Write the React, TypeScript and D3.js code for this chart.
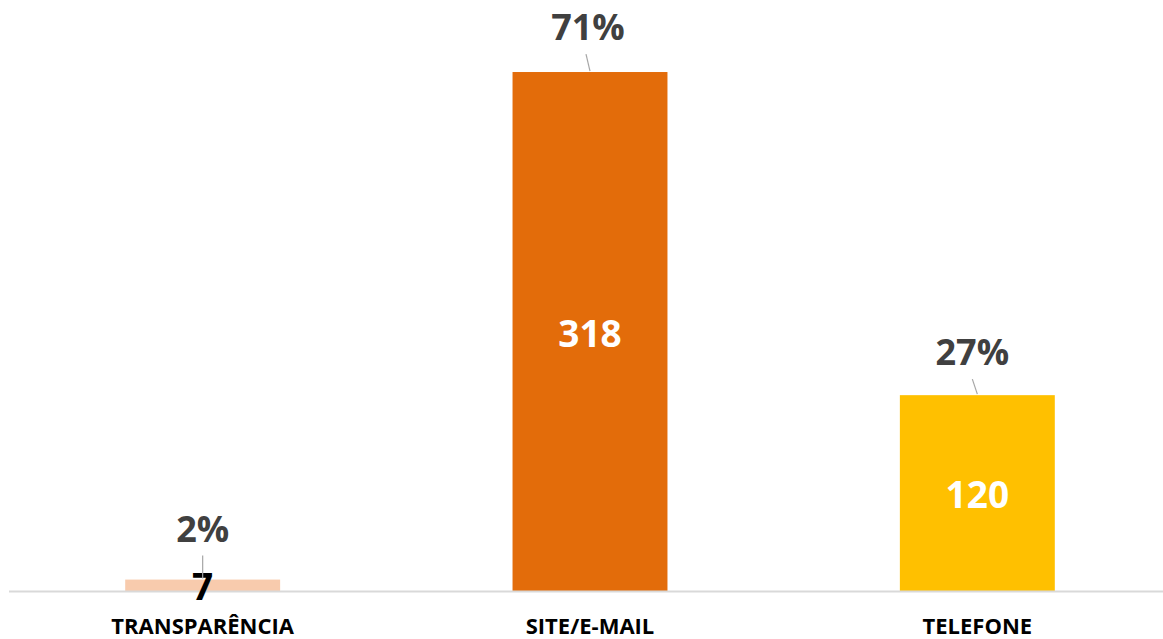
import { useEffect, useRef } from "react"
import * as d3 from "d3"

const categories = ["TRANSPARÊNCIA", "SITE/E-MAIL", "TELEFONE"]
const counts = [7, 318, 120]
const percentLabels = ["2%", "71%", "27%"]
const barColors = ["#F8CBAD", "#E36C0A", "#FFC000"]
const valueColors = ["#000000", "#FFFFFF", "#FFFFFF"]

const W = 1163
const H = 639

export default function App() {
  const ref = useRef<SVGSVGElement>(null)

  useEffect(() => {
    const svg = d3.select(ref.current)
    svg.selectAll("*").remove()

    const baseline = 591
    const x = d3.scaleBand<string>().domain(categories).range([9, 1171]).paddingInner(0.6).paddingOuter(0.3)
    const y = d3.scaleLinear().domain([0, 350]).range([baseline, baseline - 350 * 1.632])

    const font = "'Open Sans', 'Liberation Sans', sans-serif"

    // bars
    svg
      .selectAll(".bar")
      .data(counts)
      .enter()
      .append("rect")
      .attr("x", (_, i) => x(categories[i]) || 0)
      .attr("y", (d) => y(d))
      .attr("width", x.bandwidth())
      .attr("height", (d) => baseline - y(d))
      .attr("fill", (_, i) => barColors[i])

    // axis line
    svg
      .append("line")
      .attr("x1", 9)
      .attr("x2", W)
      .attr("y1", baseline + 0.5)
      .attr("y2", baseline + 0.5)
      .attr("stroke", "#D9D9D9")
      .attr("stroke-width", 2)

    // value labels (middle of bar)
    svg
      .selectAll(".val")
      .data(counts)
      .enter()
      .append("text")
      .attr("x", (_, i) => (x(categories[i]) || 0) + x.bandwidth() / 2)
      .attr("y", (d) => (y(d) + baseline) / 2 + 15)
      .attr("text-anchor", "middle")
      .attr("font-family", font)
      .attr("font-weight", 700)
      .attr("font-size", 37)
      .attr("fill", (_, i) => valueColors[i])
      .text((d) => d)

    // leader lines + percent labels
    const offsets = [
      { dx: 0, dy: 38, lx: 0 },
      { dx: -2, dy: 32, lx: -4 },
      { dx: -5, dy: 30, lx: -5 },
    ]
    counts.forEach((d, i) => {
      const cx = (x(categories[i]) || 0) + x.bandwidth() / 2
      const top = y(d)
      const o = offsets[i]
      svg
        .append("line")
        .attr("x1", cx + o.lx)
        .attr("y1", top - o.dy + 14)
        .attr("x2", cx)
        .attr("y2", top - 1)
        .attr("stroke", "#A6A6A6")
        .attr("stroke-width", 1.2)
      svg
        .append("text")
        .attr("x", cx + o.dx)
        .attr("y", top - o.dy)
        .attr("text-anchor", "middle")
        .attr("font-family", font)
        .attr("font-weight", 700)
        .attr("font-size", 36)
        .attr("fill", "#404040")
        .text(percentLabels[i])
    })

    // category labels
    svg
      .selectAll(".cat")
      .data(categories)
      .enter()
      .append("text")
      .attr("x", (d) => (x(d) || 0) + x.bandwidth() / 2)
      .attr("y", 634)
      .attr("text-anchor", "middle")
      .attr("font-family", font)
      .attr("font-weight", 700)
      .attr("font-size", 22)
      .attr("fill", "#000000")
      .text((d) => d)
  }, [])

  return (
    <svg
      ref={ref}
      width={W}
      height={H}
      style={{ position: "absolute", left: 0, top: 0, background: "#FFFFFF" }}
    />
  )
}
